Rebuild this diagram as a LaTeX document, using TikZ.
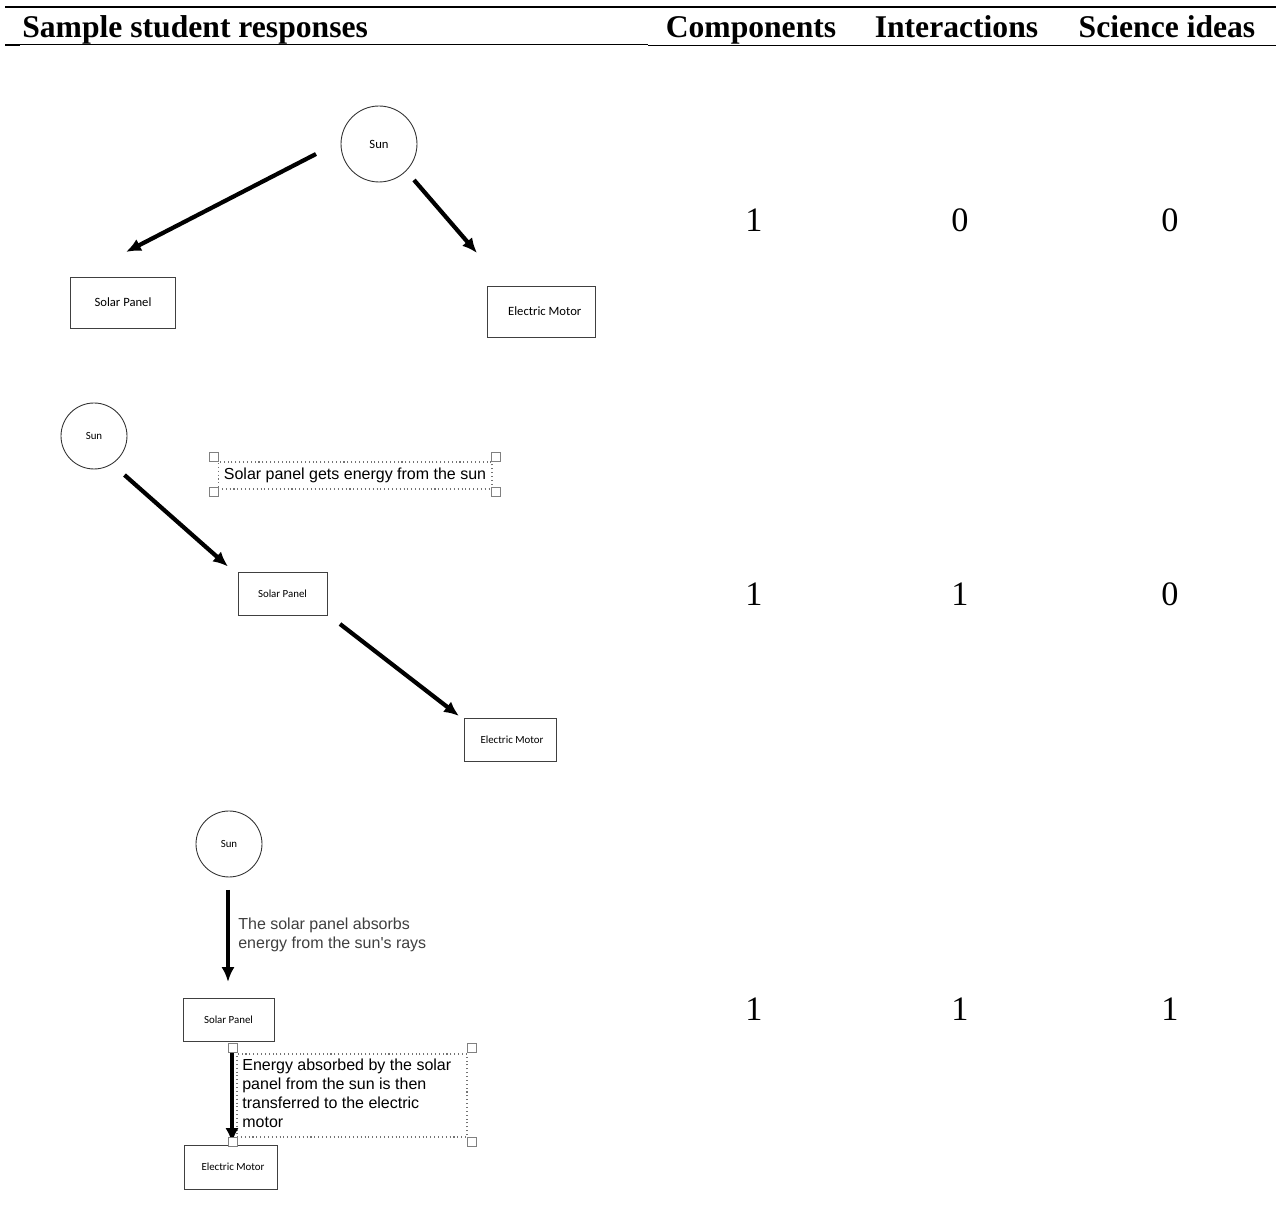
\documentclass[tikz,border=0pt]{standalone}
\usepackage{fontspec}
\setmainfont{Liberation Serif}
\newfontfamily\arialf{Liberation Sans}
\newfontfamily\myriadf{Carlito}
\usetikzlibrary{arrows.meta,calc}
\tikzset{
 hdr/.style={font=\bfseries\fontsize{18pt}{20pt}\selectfont, inner sep=0},
 num/.style={font=\fontsize{19.5pt}{22pt}\selectfont, inner sep=0},
 sunc/.style={circle, draw=black!80, line width=0.5pt, inner sep=0},
 boxn/.style={rectangle, draw=black!75, line width=0.5pt, inner sep=0},
 arr/.style={line width=2.4pt, -{Latex[length=8.5pt,width=7.5pt]}},
 handle/.style={rectangle, draw=black!50, fill=white, line width=0.7pt, minimum size=0.18cm, inner sep=0},
 dotbox/.style={rectangle, draw=black!55, line width=0.6pt, dash pattern=on 0.6pt off 1.6pt, inner sep=0},
 lab/.style={font=\arialf\fontsize{9.1pt}{10.8pt}\selectfont, inner sep=0, align=left},
 fA/.style={font=\myriadf\fontsize{7.2pt}{8pt}\selectfont},
 fB/.style={font=\myriadf\fontsize{6.2pt}{7pt}\selectfont},
}
\begin{document}
\begin{tikzpicture}[x=0.02cm,y=-0.02cm]
\useasboundingbox (0,0) rectangle (1276,1222);
\fill[white] (0,0) rectangle (1276,1222);

% header rules
\draw[line width=1.4pt] (5,7) -- (1276,7);
\draw[line width=0.5pt] (5,44.5) -- (648,44.5);
\draw[line width=1pt] (648,45.5) -- (1276,45.5);
\draw[line width=1pt] (5,45.5) -- (20,45.5);

% header text
\node[hdr, anchor=base west] (hsample) at (22,38) {Sample student responses};
\node[hdr, anchor=base] (hcomp) at (751,38) {Components};
\node[hdr, anchor=base] (hinter) at (956.5,38) {Interactions};
\node[hdr, anchor=base] (hsci) at (1167,38) {Science ideas};

% scores
\node[num, anchor=base] (r1c) at (754,232) {1};
\node[num, anchor=base] (r1i) at (960,232) {0};
\node[num, anchor=base] (r1s) at (1170,232) {0};
\node[num, anchor=base] (r2c) at (754,606) {1};
\node[num, anchor=base] (r2i) at (960,606) {1};
\node[num, anchor=base] (r2s) at (1170,606) {0};
\node[num, anchor=base] (r3c) at (754,1021) {1};
\node[num, anchor=base] (r3i) at (960,1021) {1};
\node[num, anchor=base] (r3s) at (1170,1021) {1};

% ---------- diagram 1
\node[sunc, fA, minimum size=1.52cm] (sun1) at (379,144) {Sun};
\node[boxn, fA, minimum width=2.1cm, minimum height=1.02cm] (sp1) at (123,302.5) {Solar Panel};
\node[boxn, fA, minimum width=2.16cm, minimum height=1.02cm] (em1) at (541,311.5) {\hspace{0.15cm}Electric Motor};
\coordinate (a1s) at ($(sun1)+(-63,10)$);
\coordinate (a1e) at ($(sp1)+(3,-50.5)$);
\coordinate (b1s) at ($(sun1)+(35,36)$);
\coordinate (b1e) at ($(em1)+(-64,-58.5)$);
\draw[arr] (a1s) -- (a1e);
\draw[arr] (b1s) -- (b1e);

% ---------- diagram 2
\node[sunc, fB, minimum size=1.32cm] (sun2) at (94,436) {Sun};
\node[boxn, fB, minimum width=1.78cm, minimum height=0.86cm] (sp2) at (282.5,593.5) {Solar Panel};
\node[boxn, fB, minimum width=1.84cm, minimum height=0.86cm] (em2) at (510,739.5) {\hspace{0.08cm}Electric Motor};
\node[dotbox, lab, minimum width=5.48cm, minimum height=0.54cm] (lab2) at (355,475.5) {Solar panel gets energy from the sun};
\node[handle] (h2a) at (214,457) {};
\node[handle] (h2b) at (496,457) {};
\node[handle] (h2c) at (214,492) {};
\node[handle] (h2d) at (496,492) {};
\coordinate (a2s) at ($(sun2)+(30.5,39)$);
\coordinate (a2e) at ($(sp2)+(-54.5,-27)$);
\coordinate (b2s) at ($(sp2)+(57.5,30.5)$);
\coordinate (b2e) at ($(em2)+(-51,-23.5)$);
\draw[arr] (a2s) -- (a2e);
\draw[arr] (b2s) -- (b2e);

% ---------- diagram 3
\node[sunc, fB, minimum size=1.32cm] (sun3) at (229,844) {Sun};
\node[boxn, fB, minimum width=1.82cm, minimum height=0.86cm] (sp3) at (228.5,1019.5) {Solar Panel};
\node[boxn, fB, minimum width=1.86cm, minimum height=0.88cm] (em3) at (230.5,1167) {\hspace{0.1cm}Electric Motor};
\coordinate (a3s) at ($(sun3)+(-1,46)$);
\coordinate (a3e) at ($(sp3)+(-0.5,-37.5)$);
\draw[arr] (a3s) -- (a3e);
\node[lab, text=black!75, anchor=north west] (lab3a) at (238,918) {The solar panel absorbs\\energy from the sun's rays};

\node[dotbox, minimum width=4.6cm, minimum height=1.66cm] (lab3box) at (352,1095.5) {};
\coordinate (b3s) at ($(sp3)+(3.5,26.5)$);
\coordinate (b3e) at ($(em3)+(1.5,-24)$);
\draw[arr] (b3s) -- (b3e);
\node[lab, anchor=north west] (lab3b) at (242,1059) {Energy absorbed by the solar\\panel from the sun is then\\transferred to the electric\\motor};
\node[handle] (h3a) at (233,1048) {};
\node[handle] (h3b) at (472,1048) {};
\node[handle] (h3c) at (233,1142) {};
\node[handle] (h3d) at (472,1142) {};
\end{tikzpicture}
\end{document}
